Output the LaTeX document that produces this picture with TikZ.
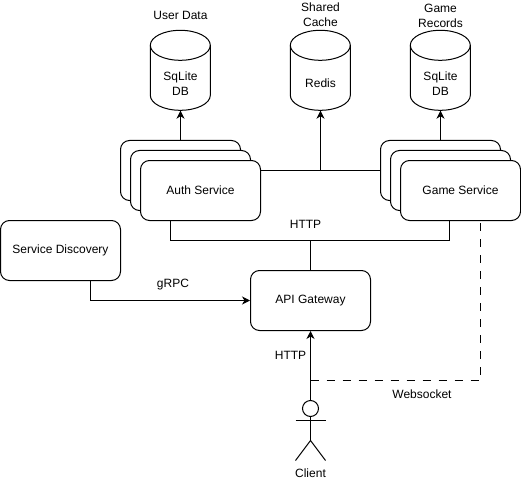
\documentclass[tikz,border=0pt]{standalone}
\usepackage{fontspec}
\setmainfont{Liberation Sans}
\usetikzlibrary{arrows.meta}
\tikzset{
  x=1pt,y=-1pt,
  every node/.style={font=\fontsize{12}{15}\selectfont,align=center,inner sep=0pt},
  svcbox/.style={draw=black,line width=1pt,fill=white,rounded corners=9pt,minimum width=120pt,minimum height=60pt},
  dbbody/.style={minimum width=60pt,minimum height=80pt},
  dbline/.style={draw=black,line width=1pt,fill=white},
  link/.style={draw=black,line width=1pt},
  arrowlink/.style={link,-{Stealth[length=8pt,width=8pt,inset=2.5pt]}},
  dashlink/.style={link,dash pattern=on 8pt off 8pt},
  actorline/.style={draw=black,line width=1pt}
}
\newcommand{\dbdraw}[1]{%
  \draw[dbline] (#1.north west) ++(0,15) arc[start angle=180,end angle=0,x radius=30pt,y radius=15pt]
    -- ++(0,50) arc[start angle=0,end angle=-180,x radius=30pt,y radius=15pt] -- cycle;
  \draw[dbline,fill=none] (#1.north west) ++(0,15) arc[start angle=180,end angle=360,x radius=30pt,y radius=15pt];
}
\begin{document}
\begin{tikzpicture}
\useasboundingbox[fill=white] (0,0) rectangle (521,481);
\begin{scope}[shift={(0.5,0.5)}]
  % databases
  \node[dbbody] (userdb) at (180,70) {};
  \node[dbbody] (redis) at (320,70) {};
  \node[dbbody] (gamedb) at (440,70) {};
  \dbdraw{userdb}\dbdraw{redis}\dbdraw{gamedb}
  \node (userdbtext) at (180,83) {SqLite\\DB};
  \node (redistext) at (320,82.5) {Redis};
  \node (gamedbtext) at (440,83) {SqLite\\DB};
  \node (userdatalabel) at (180,14.5) {User Data};
  \node (cachelabel) at (320,14.5) {Shared\\Cache};
  \node (recordslabel) at (440,15) {Game\\Records};
  % services
  \node[svcbox] (auth3) at (180,170) {};
  \node[svcbox] (auth2) at (190,180) {};
  \node[svcbox] (auth1) at (200,190) {Auth Service};
  \node[svcbox] (game3) at (440,170) {};
  \node[svcbox] (game2) at (450,180) {};
  \node[svcbox] (game1) at (460,190) {Game Service};
  \node[svcbox] (discovery) at (60,250) {Service Discovery};
  \node[svcbox] (gateway) at (310,300) {API Gateway};
  % client
  \node[draw=black,line width=1pt,circle,minimum size=16pt] (clienthead) at (310,408) {};
  \coordinate (hip) at (310,440);
  \coordinate (shoulderl) at (295,420);
  \coordinate (shoulderr) at (325,420);
  \coordinate (footl) at (295,460);
  \coordinate (footr) at (325,460);
  \draw[actorline] (clienthead.south) -- (hip);
  \draw[actorline] (shoulderl) -- (shoulderr);
  \draw[actorline] (footl) -- (hip) -- (footr);
  \node (clientlabel) at (310,473) {Client};
  % connectors
  \coordinate (busredis) at (320,170);
  \coordinate (httpleft) at (170,240);
  \coordinate (httpright) at (449,240);
  \coordinate (httpmid) at (310,240);
  \coordinate (wscorner) at (480,380);
  \coordinate (wsjoin) at (310,380);
  \draw[arrowlink] (auth3.north) -- (userdb.south);
  \draw[arrowlink] (game3.north) -- (gamedb.south);
  \draw[link] (auth1.east |- busredis) -- (game3.west |- busredis);
  \draw[arrowlink] (busredis) -- (redis.south);
  \draw[link] (httpleft |- auth1.south) -- (httpleft) -- (httpright) -- (httpright |- game1.south);
  \draw[link] (gateway.north) -- (httpmid);
  \draw[arrowlink] (discovery.south -| 90,0) -- (90,300) -- (gateway.west);
  \draw[arrowlink] (clienthead.north) -- (gateway.south);
  \draw[dashlink] (wsjoin) -- (wscorner) -- (wscorner |- game1.south);
  % labels
  \node (httptop) at (305,224) {HTTP};
  \node (grpc) at (172.5,284) {gRPC};
  \node (httpclient) at (290,354.5) {HTTP};
  \node (ws) at (421.5,393.5) {Websocket};
\end{scope}
\end{tikzpicture}
\end{document}
